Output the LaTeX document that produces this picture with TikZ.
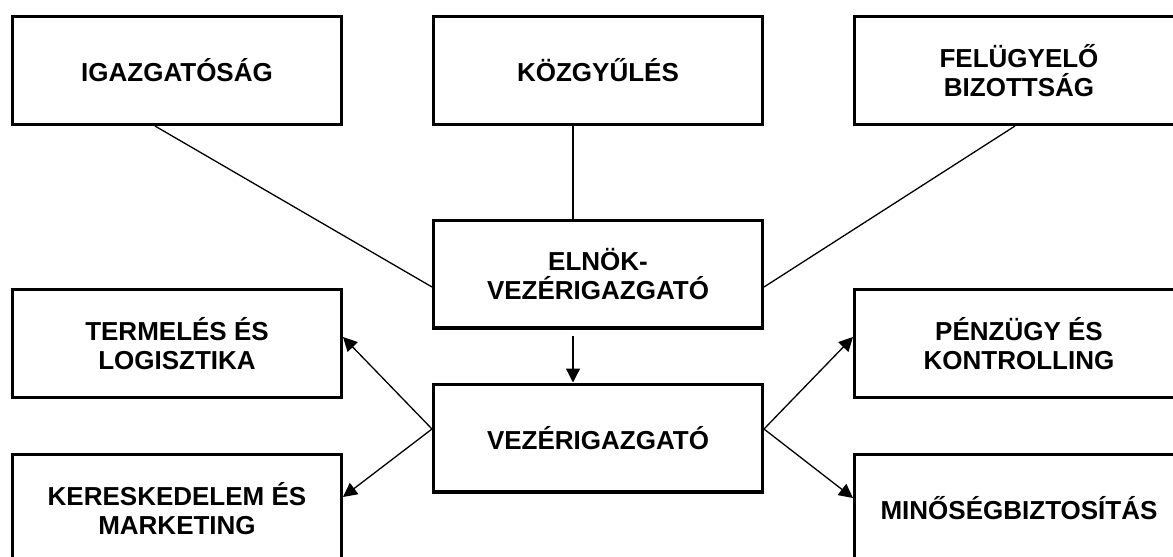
\documentclass[tikz,border=0pt]{standalone}
\usepackage{fontspec}
\setmainfont{Liberation Sans}
\usetikzlibrary{arrows.meta}

\begin{document}
\begin{tikzpicture}[x=0.5pt, y=-0.5pt, >={Triangle[length=7pt,width=7pt]},
  unit/.style={draw, line width=1.65pt, minimum width=164.35pt, minimum height=53.85pt,
    inner sep=2pt, align=center, font=\fontsize{13}{14.8}\selectfont\bfseries},
  link/.style={line width=0.65pt}]
\clip (0,0) rectangle (1173,557);

% Top row
\node[unit] (igazg) at (177,70.5) {IGAZGATÓSÁG};
\node[unit] (kozgy) at (598,70.5) {KÖZGYŰLÉS};
\node[unit] (felugy) at (1019,70.5) {FELÜGYELŐ\\BIZOTTSÁG};

% Management
\node[unit] (elnok) at (598,274) {ELNÖK-\\VEZÉRIGAZGATÓ};
\node[unit] (vezer) at (598,438) {VEZÉRIGAZGATÓ};

% Departments
\node[unit] (termel) at (177,343.5) {TERMELÉS ÉS\\LOGISZTIKA};
\node[unit] (keresk) at (177,508.5) {KERESKEDELEM ÉS\\MARKETING};
\node[unit] (penzugy) at (1019,343.5) {PÉNZÜGY ÉS\\KONTROLLING};
\node[unit] (minoseg) at (1019,508.5) {MINŐSÉGBIZTOSÍTÁS};

% Links to the chairman
\draw[link] ([xshift=-11pt]igazg.south) -- ([yshift=-6.5pt]elnok.west);
\draw[link] ([xshift=-12.5pt]kozgy.south) -- ([xshift=-12.5pt]elnok.north);
\draw[link] ([xshift=-2pt]felugy.south) -- ([yshift=-6.5pt]elnok.east);

% Arrows
\draw[link, ->] ([xshift=-12.5pt, yshift=-3pt]elnok.south) -- ([xshift=-12.5pt]vezer.north);
\draw[link, ->] ([yshift=4.5pt]vezer.west) -- ([yshift=3.25pt]termel.east);
\draw[link, ->] ([yshift=4.5pt]vezer.west) -- ([yshift=5.75pt]keresk.east);
\draw[link, ->] ([yshift=4.5pt]vezer.east) -- ([yshift=3.25pt]penzugy.west);
\draw[link, ->] ([yshift=4.5pt]vezer.east) -- ([yshift=5.25pt]minoseg.west);
\end{tikzpicture}
\end{document}
